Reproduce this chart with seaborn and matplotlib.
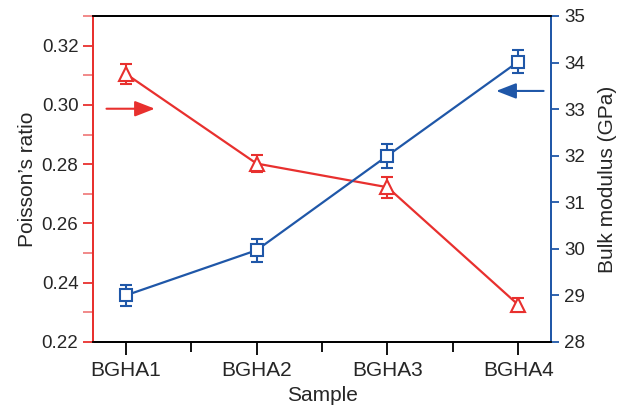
import numpy as np
import pandas as pd
import matplotlib
matplotlib.use("Agg")
import matplotlib.pyplot as plt
from matplotlib.ticker import MultipleLocator
import seaborn as sns

# Data
samples = ["BGHA1", "BGHA2", "BGHA3", "BGHA4"]
poisson = [0.3105, 0.2802, 0.2722, 0.2325]
poisson_err = [0.0033, 0.0028, 0.0035, 0.0025]
bulk = [29.0, 29.97, 32.0, 34.02]
bulk_err = [0.22, 0.25, 0.26, 0.24]

red = "#E8302E"
blue = "#1F57A8"

sns.set_style("white")
plt.rcParams["font.family"] = ["Liberation Sans", "DejaVu Sans"]
plt.rcParams["font.size"] = 13.5

df = pd.DataFrame({"pos": np.arange(len(samples)), "sample": samples,
                   "poisson": poisson, "bulk": bulk})

fig = plt.figure(figsize=(6.22, 4.05), dpi=100)
ax = fig.add_axes([0.1495, 0.1556, 0.7365, 0.805])
ax2 = ax.twinx()

# Poisson's ratio (left axis)
sns.lineplot(data=df, x="pos", y="poisson", ax=ax, color=red, lw=1.6,
             marker="^", markersize=10, markerfacecolor="white",
             markeredgecolor=red, markeredgewidth=1.5, zorder=3)
ax.errorbar(df["pos"], df["poisson"], yerr=poisson_err, fmt="none",
            ecolor=red, elinewidth=1.5, capsize=4, capthick=1.5, zorder=2)

# Bulk modulus (right axis)
sns.lineplot(data=df, x="pos", y="bulk", ax=ax2, color=blue, lw=1.6,
             marker="s", markersize=9, markerfacecolor="white",
             markeredgecolor=blue, markeredgewidth=1.5, zorder=3)
ax2.errorbar(df["pos"], df["bulk"], yerr=bulk_err, fmt="none",
             ecolor=blue, elinewidth=1.5, capsize=4, capthick=1.5, zorder=2)

# Axes limits and ticks
ax.set_xlim(-0.25, 3.25)
ax.set_xticks(df["pos"])
ax.set_xticklabels(samples, fontsize=15)
ax.xaxis.set_minor_locator(MultipleLocator(0.5))
ax.set_ylim(0.22, 0.33)
ax.set_yticks([0.22, 0.24, 0.26, 0.28, 0.30, 0.32])
ax.yaxis.set_minor_locator(MultipleLocator(0.01))
ax2.set_ylim(28, 35)
ax2.set_yticks(range(28, 36))

ax.set_xlabel("Sample", fontsize=15, labelpad=4)
ax.set_ylabel("Poisson\u2019s ratio", fontsize=15, labelpad=3)
ax2.set_ylabel("Bulk modulus (GPa)", fontsize=15, labelpad=9)

for a in (ax, ax2):
    for s in a.spines.values():
        s.set_linewidth(1.3)
        s.set_color("black")
ax.spines["left"].set_color(red)
ax2.spines["left"].set_color(red)
ax.spines["right"].set_color(blue)
ax2.spines["right"].set_color(blue)

ax.tick_params(axis="x", which="major", direction="out", length=9, width=1.3,
               color="black", bottom=True, pad=5)
ax.tick_params(axis="x", which="minor", direction="out", length=7, width=1.3,
               color="black", bottom=True)
ax.tick_params(axis="y", which="major", direction="out", length=7, width=1.3,
               color=red, left=True)
ax.tick_params(axis="y", which="minor", direction="out", length=7, width=1.3,
               color="#F08080", left=True)
ax2.tick_params(axis="y", which="major", direction="out", length=6, width=1.3,
                color=blue, right=True)

# Arrows indicating axes
ax.annotate("", xy=(0.244, 0.2987), xytext=(-0.168, 0.2987),
            arrowprops=dict(arrowstyle="-|>,head_length=0.9,head_width=0.35",
                            color=red, lw=1.5))
ax2.annotate("", xy=(2.809, 33.39), xytext=(3.214, 33.39),
             arrowprops=dict(arrowstyle="-|>,head_length=0.9,head_width=0.35",
                             color=blue, lw=1.5))

fig.savefig("out.png", dpi=100)
